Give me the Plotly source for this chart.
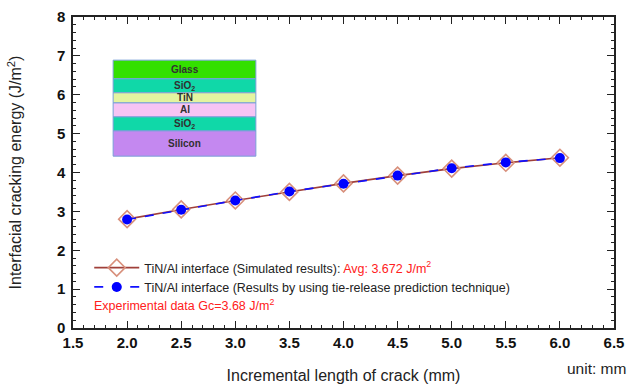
import plotly.graph_objects as go

crack_length = [2.0, 2.5, 3.0, 3.5, 4.0, 4.5, 5.0, 5.5, 6.0]
simulated = [2.80, 3.05, 3.28, 3.50, 3.72, 3.92, 4.10, 4.25, 4.38]
predicted = [2.79, 3.04, 3.28, 3.51, 3.71, 3.92, 4.11, 4.26, 4.37]

layer_names = ["Glass", "SiO<sub>2</sub>", "TiN", "Al", "SiO<sub>2</sub>", "Silicon"]
layer_colors = ["#33e000", "#10d8a8", "#e4f4a0", "#f6c4f4", "#10d8a8", "#c488f0"]
layer_bounds = [6.89, 6.41, 6.05, 5.79, 5.43, 5.07, 4.42]

fig = go.Figure()

fig.add_trace(go.Scatter(
    x=crack_length, y=simulated, mode="lines+markers",
    name='TiN/Al interface (Simulated results): <span style="color:#ff2020">Avg: 3.672 J/m<sup>2</sup></span>',
    line=dict(color="#a0403a", width=1.6),
    marker=dict(symbol="diamond-open", size=13, color="#d8907c", line=dict(width=1.6)),
))
fig.add_trace(go.Scatter(
    x=crack_length, y=predicted, mode="lines+markers",
    name="TiN/Al interface (Results by using tie-release prediction technique)",
    line=dict(color="#1010ff", width=1.6, dash="dash"),
    marker=dict(symbol="circle", size=10, color="#0000ff"),
))

x0, x1 = 1.871, 3.19
for i, (nm, col) in enumerate(zip(layer_names, layer_colors)):
    top, bot = layer_bounds[i], layer_bounds[i + 1]
    fig.add_shape(type="rect", x0=x0, x1=x1, y0=bot, y1=top,
                  fillcolor=col, line=dict(color="#7aa0d8", width=1), layer="above")
    fig.add_annotation(x=(x0 + x1) / 2, y=(top + bot) / 2, text="<b>" + nm + "</b>",
                       showarrow=False, font=dict(size=10, color="#303030", family="Liberation Sans"))

fig.add_annotation(x=1.68, y=0.6, xref="x", yref="y", xanchor="left",
                   text="Experimental data Gc=3.68 J/m<sup>2</sup>", showarrow=False,
                   font=dict(size=12.5, color="#ff2020", family="Liberation Sans"))
fig.add_annotation(x=1.025, y=-0.129, xref="paper", yref="paper", xanchor="right", yanchor="middle",
                   text="unit: mm", showarrow=False,
                   font=dict(size=15.5, color="#222222", family="Liberation Sans"))

axis_common = dict(showline=True, linecolor="#222222", linewidth=1.5, mirror="ticks",
                   ticks="inside", ticklen=7, tickwidth=1.3, tickcolor="#222222",
                   showgrid=False, zeroline=False, automargin=False,
                   tickfont=dict(size=15, color="#111111", family="Liberation Sans", weight="bold"))

fig.update_xaxes(range=[1.5, 6.5], dtick=0.5, tick0=1.5, tickformat=".1f",
                 minor=dict(dtick=0.1, ticks="inside", ticklen=3, tickwidth=1, tickcolor="#222222"),
                 title=dict(text="Incremental length of crack (mm)", standoff=20,
                            font=dict(size=16, color="#222222", family="Liberation Sans")),
                 **axis_common)
fig.update_yaxes(range=[0, 8], dtick=1, ticklabelstandoff=3,
                 minor=dict(dtick=0.2, ticks="inside", ticklen=3, tickwidth=1, tickcolor="#222222"),
                 title=dict(text="Interfacial cracking energy (J/m<sup>2</sup>)", standoff=31,
                            font=dict(size=16, color="#222222", family="Liberation Sans")),
                 **axis_common)

fig.update_layout(
    width=638, height=389,
    margin=dict(l=73, r=24, t=17, b=61),
    plot_bgcolor="white", paper_bgcolor="white",
    legend=dict(x=0.03, y=0.241, xanchor="left", yanchor="top",
                bgcolor="rgba(0,0,0,0)", itemwidth=45, tracegroupgap=0,
                font=dict(size=12.5, color="#222222", family="Liberation Sans")),
    showlegend=True,
)

fig.write_html("out.html", config={"displayModeBar": False},
               post_script="document.body.style.margin='0';document.body.style.overflow='hidden';")
